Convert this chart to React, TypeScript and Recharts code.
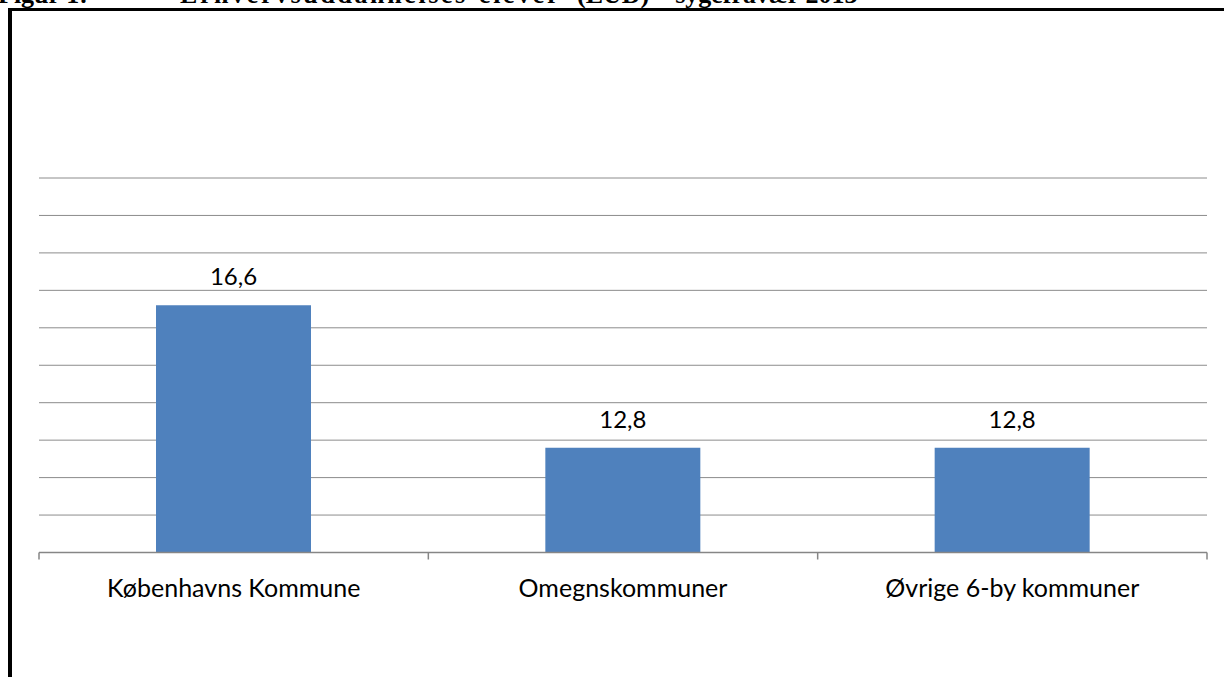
import React from "react";
import { BarChart, Bar, XAxis, YAxis, CartesianGrid, LabelList } from "recharts";

const categories = ["Københavns Kommune", "Omegnskommuner", "Øvrige 6-by kommuner"];
const values = [16.6, 12.8, 12.8];
const valueLabels = ["16,6", "12,8", "12,8"];
const yTicks = [10, 11, 12, 13, 14, 15, 16, 17, 18, 19, 20];
const titleParts = ["Figur 1:", "Erhvervsuddannelses-elever", "(EUD) – sygefravær 2013"];

const data = categories.map((c, i) => ({ name: c, value: values[i], label: valueLabels[i] }));

const PAGE_W = 1224;
const PAGE_H = 677;
const W = 1216;
const H = 661;
const M = { top: 170, right: 17, left: 31, bottom: 56.5 };
const AXIS_H = 60;
const HALF_BAND = (W - M.left - M.right) / categories.length / 2;

const FONT = "Lato, 'Open Sans', sans-serif";
const TITLE_STYLE: React.CSSProperties = {
  position: "absolute",
  top: -18.5,
  fontFamily: "'Liberation Serif', serif",
  fontWeight: "bold",
  fontSize: 26,
  lineHeight: "26px",
  whiteSpace: "nowrap",
  color: "#000",
};

const Tick = (props: any) => {
  const { x, y, payload, index } = props;
  const last = index === categories.length - 1;
  return (
    <g>
      <line x1={x - HALF_BAND} x2={x - HALF_BAND} y1={y} y2={y + 7} stroke="#868686" strokeWidth={1.5} />
      {last && (
        <line x1={x + HALF_BAND} x2={x + HALF_BAND} y1={y} y2={y + 7} stroke="#868686" strokeWidth={1.5} />
      )}
      <text x={x} y={y + 44.5} textAnchor="middle" fontFamily={FONT} fontSize={25} fill="#000">
        {payload.value}
      </text>
    </g>
  );
};

export default function App() {
  return (
    <div style={{ position: "relative", width: PAGE_W, height: PAGE_H, overflow: "hidden", background: "#fff" }}>
      <style>{`html,body{margin:0;padding:0;overflow:hidden}`}</style>
      <div style={{ ...TITLE_STYLE, left: -2 }}>{titleParts[0]}</div>
      <div style={{ ...TITLE_STYLE, left: 180, letterSpacing: 2.6 }}>{titleParts[1]}</div>
      <div style={{ ...TITLE_STYLE, left: 577 }}>{titleParts[2]}</div>
      <div style={{ position: "absolute", left: 8, top: 8, width: W, height: 3, background: "#000" }} />
      <div style={{ position: "absolute", left: 8, top: 8, width: 4, height: PAGE_H - 8, background: "#000" }} />
      <div style={{ position: "absolute", left: 8, top: 8 }}>
        <BarChart width={W} height={H} data={data} margin={M} barSize={155}>
          <CartesianGrid vertical={false} stroke="#8c8c8c" strokeWidth={1} />
          <YAxis hide type="number" domain={[10, 20]} ticks={yTicks} />
          <XAxis
            dataKey="name"
            height={AXIS_H}
            tickSize={0}
            tickMargin={0}
            tickLine={false}
            axisLine={{ stroke: "#868686", strokeWidth: 1.5 }}
            tick={<Tick />}
            interval={0}
          />
          <Bar dataKey="value" fill="#4f81bd" isAnimationActive={false}>
            <LabelList dataKey="label" position="top" offset={20} fontFamily={FONT} fontSize={24} fill="#000" />
          </Bar>
        </BarChart>
      </div>
    </div>
  );
}
